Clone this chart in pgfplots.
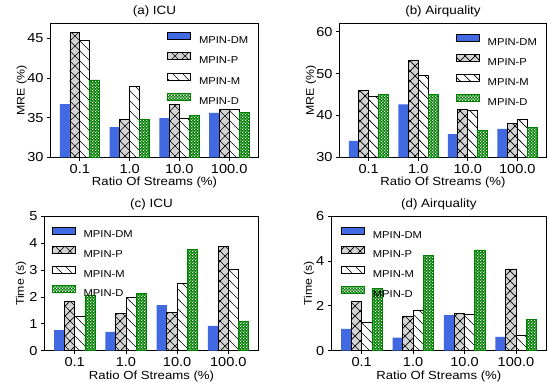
\documentclass[border=0pt]{standalone}
\usepackage{fontspec}
\setmainfont{Liberation Sans}[FakeStretch=1.12]
\usepackage{pgfplots}
\pgfplotsset{compat=1.18}
\usepackage{pgfplotstable}
\usetikzlibrary{patterns,patterns.meta}

\definecolor{dmblue}{HTML}{4169E1}
\definecolor{pgray}{HTML}{D3D3D3}
\definecolor{dgreen}{HTML}{008000}

\newcommand{\fTick}{\fontsize{13}{15}\selectfont}
\newcommand{\fXlab}{\fontsize{11.75}{14}\selectfont}
\newcommand{\fYlab}{\fontsize{11}{13}\selectfont}
\newcommand{\fTitle}{\fontsize{12}{14}\selectfont}
\newcommand{\fLeg}{\fontsize{10}{12}\selectfont}

\tikzdeclarepattern{name=xh, type=uncolored,
  bottom left={(-0.5pt,-0.5pt)}, top right={(10.5pt,10.5pt)}, tile size={(10pt,10pt)},
  code={\draw[line width=0.7pt] (-0.5pt,-0.5pt) -- (10.5pt,10.5pt) (-0.5pt,10.5pt) -- (10.5pt,-0.5pt);}}
\tikzdeclarepattern{name=bs, type=uncolored,
  bottom left={(-0.5pt,-0.5pt)}, top right={(10.5pt,10.5pt)}, tile size={(10pt,10pt)},
  code={\draw[line width=0.7pt] (-0.5pt,10.5pt) -- (10.5pt,-0.5pt);}}
\tikzdeclarepattern{name=chk, type=uncolored,
  bottom left={(0pt,0pt)}, top right={(2.8pt,2.8pt)}, tile size={(2.8pt,2.8pt)},
  code={\fill (0pt,0pt) rectangle (1.25pt,1.25pt); \fill (1.4pt,1.4pt) rectangle (2.65pt,2.65pt);}}

\pgfplotstableread{
x DM P M D
0 36.7 45.8 44.7 39.75
1 33.8 34.8 38.95 34.8
2 34.95 36.7 34.87 35.3
3 35.6 36.05 36.0 35.67
}\tabA
\pgfplotstableread{
x DM P M D
0 33.9 46.0 44.6 44.95
1 42.65 53.05 49.5 45.0
2 35.55 41.5 41.3 36.35
3 36.8 38.15 39.0 37.15
}\tabB
\pgfplotstableread{
x DM P M D
0 0.77 1.83 1.27 2.05
1 0.70 1.39 1.98 2.14
2 1.70 1.43 2.49 3.76
3 0.92 3.88 3.02 1.08
}\tabC
\pgfplotstableread{
x DM P M D
0 0.97 2.19 1.25 2.79
1 0.58 1.53 1.78 4.26
2 1.59 1.66 1.62 4.49
3 0.62 3.64 0.68 1.41
}\tabD

\pgfplotsset{
  limg/.style={legend image code/.code={\draw[##1] (0pt,0.3pt) rectangle (23pt,7.3pt);}},
  dmstyle/.style={fill=dmblue, draw=none, limg},
  pstyle/.style={preaction={fill=pgray}, pattern=xh, pattern color=black, draw=black, line width=0.8pt, limg},
  mstyle/.style={preaction={fill=white}, pattern=bs, pattern color=black, draw=black, line width=0.8pt, limg},
  dstyle/.style={preaction={fill=dgreen}, pattern=chk, pattern color=white, draw=dgreen, line width=0.8pt, limg},
  myax/.style={
    scale only axis, ybar, bar width=0.2,
    xmin=-0.59, xmax=3.59, xtick={0,1,2,3}, xticklabels={0.1,1.0,10.0,100.0},
    xtick pos=bottom, ytick pos=left, tick align=outside, major tick length=3.5pt,
    tick style={black, line width=0.8pt},
    axis line style={black, line width=0.8pt},
    xlabel={Ratio Of Streams (\%)},
    xticklabel style={font=\fTick},
    yticklabel style={font=\fTick},
    title style={font=\fTitle, at={(0.5,1)}, anchor=base, yshift=2.8pt},
    xlabel style={font=\fXlab, at={(0.5,0)}, anchor=base, yshift=-28.4pt},
    ylabel style={font=\fYlab, anchor=center},
    /pgf/number format/assume math mode=true,
    legend cell align=left,
    legend style={draw=none, fill=none, inner sep=0pt, outer sep=0pt,
      font=\fLeg, row sep=8.8pt, column sep=8.3pt,
      nodes={font=\fLeg, inner sep=0pt, outer sep=0pt, text height=7.6pt, text depth=0pt}},
  },
}

\begin{document}
\begin{tikzpicture}
\useasboundingbox (0,0) rectangle (548pt,381pt);
% (a)
\begin{axis}[myax, at={(50.5pt,223.7pt)}, anchor=south west, width=208pt, height=134pt,
  ymin=30, ymax=46.9, ytick={30,35,40,45}, ylabel={MRE (\%)}, title={(a) ICU},
  ylabel style={at={(axis description cs:-0.138,0.5)}},
  legend style={at={(0.56,0.933)}, anchor=north west}]
\addplot[dmstyle, bar shift=-0.3] table[x=x,y=DM]{\tabA};
\addplot[pstyle, bar shift=-0.1] table[x=x,y=P]{\tabA};
\addplot[mstyle, bar shift=0.1] table[x=x,y=M]{\tabA};
\addplot[dstyle, bar shift=0.3] table[x=x,y=D]{\tabA};
\legend{MPIN-DM,MPIN-P,MPIN-M,MPIN-D}
\end{axis}
% (b)
\begin{axis}[myax, at={(339.5pt,223.7pt)}, anchor=south west, width=207pt, height=134pt,
  ymin=30, ymax=62, ytick={30,40,50,60}, ylabel={MRE (\%)}, title={(b) Airquality},
  ylabel style={at={(axis description cs:-0.138,0.5)}},
  legend style={at={(0.561,0.922)}, anchor=north west}]
\addplot[dmstyle, bar shift=-0.3] table[x=x,y=DM]{\tabB};
\addplot[pstyle, bar shift=-0.1] table[x=x,y=P]{\tabB};
\addplot[mstyle, bar shift=0.1] table[x=x,y=M]{\tabB};
\addplot[dstyle, bar shift=0.3] table[x=x,y=D]{\tabB};
\legend{MPIN-DM,MPIN-P,MPIN-M,MPIN-D}
\end{axis}
% (c)
\begin{axis}[myax, at={(44.5pt,30.3pt)}, anchor=south west, width=214pt, height=134.4pt,
  ymin=0, ymax=5, ytick={0,1,2,3,4,5}, ylabel={Time (s)}, title={(c) ICU},
  ylabel style={at={(axis description cs:-0.11,0.5)}},
  legend style={at={(0.033,0.923)}, anchor=north west, row sep=8.1pt}]
\addplot[dmstyle, bar shift=-0.3] table[x=x,y=DM]{\tabC};
\addplot[pstyle, bar shift=-0.1] table[x=x,y=P]{\tabC};
\addplot[mstyle, bar shift=0.1] table[x=x,y=M]{\tabC};
\addplot[dstyle, bar shift=0.3] table[x=x,y=D]{\tabC};
\legend{MPIN-DM,MPIN-P,MPIN-M,MPIN-D}
\end{axis}
% (d)
\begin{axis}[myax, at={(331.3pt,30.3pt)}, anchor=south west, width=215pt, height=134.7pt,
  ymin=0, ymax=6, ytick={0,2,4,6}, ylabel={Time (s)}, title={(d) Airquality},
  ylabel style={at={(axis description cs:-0.104,0.5)}},
  legend style={at={(0.044,0.918)}, anchor=north west, row sep=8.1pt}]
\addplot[dmstyle, bar shift=-0.3] table[x=x,y=DM]{\tabD};
\addplot[pstyle, bar shift=-0.1] table[x=x,y=P]{\tabD};
\addplot[mstyle, bar shift=0.1] table[x=x,y=M]{\tabD};
\addplot[dstyle, bar shift=0.3] table[x=x,y=D]{\tabD};
\legend{MPIN-DM,MPIN-P,MPIN-M,MPIN-D}
\end{axis}
\end{tikzpicture}
\end{document}
